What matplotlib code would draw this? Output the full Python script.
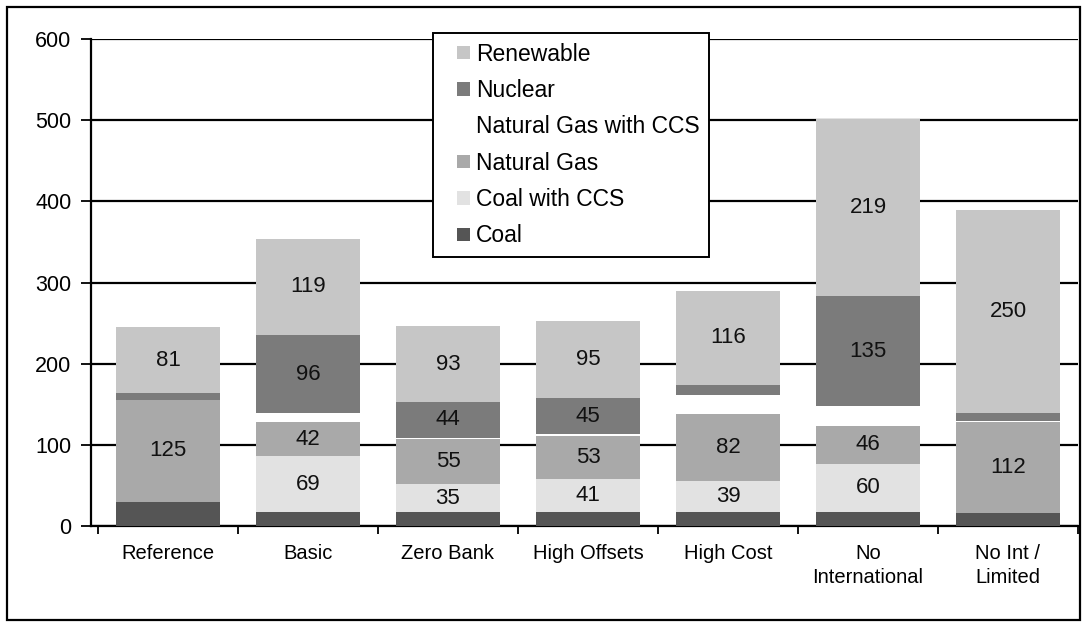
import numpy as np
import matplotlib
matplotlib.use("Agg")
import matplotlib.pyplot as plt
from matplotlib.patches import Rectangle
from matplotlib.legend_handler import HandlerPatch

plt.rcParams["font.family"] = ["Liberation Sans", "DejaVu Sans"]

scenarios = ["Reference", "Basic", "Zero Bank", "High Offsets", "High Cost",
             "No\nInternational", "No Int /\nLimited"]
coal = [30, 17, 17, 17, 17, 17, 16]
coal_ccs = [0, 69, 35, 41, 39, 60, 0]
natural_gas = [125, 42, 55, 53, 82, 46, 112]
natural_gas_ccs = [0, 11, 2, 2, 24, 25, 2]
nuclear = [9, 96, 44, 45, 12, 135, 9]
renewable = [81, 119, 93, 95, 116, 219, 250]

series = [
    ("Coal", coal, "#555555"),
    ("Coal with CCS", coal_ccs, "#e2e2e2"),
    ("Natural Gas", natural_gas, "#a9a9a9"),
    ("Natural Gas with CCS", natural_gas_ccs, "#ffffff"),
    ("Nuclear", nuclear, "#7b7b7b"),
    ("Renewable", renewable, "#c6c6c6"),
]


def square_handle(legend, orig_handle, xdescent, ydescent, width, height, fontsize):
    # small square pushed to the right end of the handle box
    s = 0.58 * fontsize
    return Rectangle((width - xdescent - s, -ydescent + (height - s) / 2), s, s)


fig = plt.figure(figsize=(10.87, 6.22), dpi=100)
ax = fig.add_axes([0.0837, 0.1543, 0.908, 0.783])

x = np.arange(len(scenarios))
bottom = np.zeros(len(scenarios))
handles = []
for name, vals, color in series:
    vals = np.array(vals, dtype=float)
    h = ax.bar(x, vals, 0.74, bottom=bottom, color=color, edgecolor="none",
               label=name, zorder=3)
    handles.append(h.patches[0])
    if name not in ("Coal", "Natural Gas with CCS"):
        for xi, b, v in zip(x, bottom, vals):
            if v >= 35:
                ax.text(xi, b + v / 2, f"{int(v)}", ha="center", va="center",
                        fontsize=16, color="#111111", zorder=4)
    bottom += vals

ax.set_ylim(0, 600)
ax.set_xlim(-0.55, 6.5)
ax.set_yticks(range(0, 601, 100))
ax.yaxis.grid(True, color="black", linewidth=1.6, zorder=0)
ax.set_axisbelow(True)
ax.tick_params(axis="y", direction="out", length=7, width=1.3, labelsize=15.5, pad=7)
ax.set_xticks(x)
ax.set_xticklabels(scenarios, fontsize=14.5, linespacing=1.3)
ax.tick_params(axis="x", length=0, pad=13)
ax.set_xticks(np.arange(-0.5, 6.6, 1), minor=True)
ax.tick_params(axis="x", which="minor", direction="out", length=6, width=1.3)
for s in ("top", "right"):
    ax.spines[s].set_visible(False)
ax.spines["left"].set_linewidth(1.6)
ax.spines["bottom"].set_linewidth(1.6)

leg = ax.legend(handles[::-1], [s[0] for s in series][::-1],
                loc="upper left", bbox_to_anchor=(0.3465, 1.012), borderaxespad=0,
                fontsize=16.5, frameon=True, fancybox=False, edgecolor="black",
                framealpha=1, facecolor="white",
                handlelength=1.2, handleheight=0.7, handletextpad=0.25,
                labelspacing=0.58, borderpad=0.42,
                handler_map={Rectangle: HandlerPatch(patch_func=square_handle)})
leg.get_frame().set_linewidth(1.4)
leg.set_zorder(5)

fig.patches.append(Rectangle((0.006, 0.004), 0.988, 0.984, transform=fig.transFigure,
                             fill=False, edgecolor="black", linewidth=1.6))

fig.savefig("out.png", dpi=100)
